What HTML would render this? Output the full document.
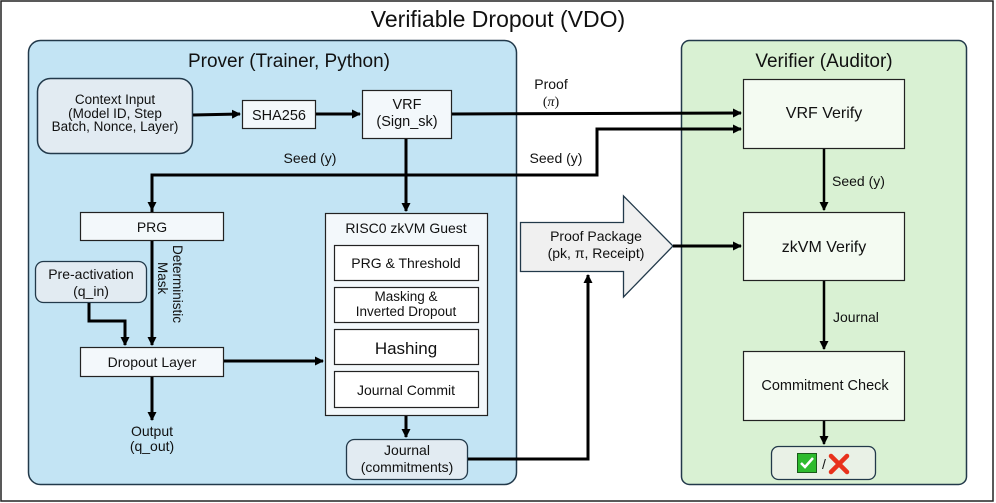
<!DOCTYPE html>
<html><head><meta charset="utf-8"><style>
html,body{margin:0;padding:0;background:#fff}
svg{display:block}
text{font-family:"Liberation Sans","DejaVu Sans",sans-serif;fill:#111}
</style></head><body>
<svg width="996" height="503" viewBox="0 0 996 503" xmlns="http://www.w3.org/2000/svg">
<defs>
<marker id="a" markerWidth="9" markerHeight="9" refX="8" refY="4.5" orient="auto" markerUnits="userSpaceOnUse"><path d="M0,0 L9,4.5 L0,9 z" fill="#000"/></marker>
</defs>
<rect x="1" y="1" width="992" height="500" fill="#fff" stroke="#222" stroke-width="1.5"/>
<text x="498" y="27" font-size="23" text-anchor="middle">Verifiable Dropout (VDO)</text>

<rect x="28.5" y="40.5" width="488" height="444" rx="12" fill="#c3e4f4" stroke="#22394a" stroke-width="1.5"/>
<text x="289" y="67" font-size="19" text-anchor="middle">Prover (Trainer, Python)</text>
<rect x="681.5" y="40.5" width="285" height="444" rx="8" fill="#d9f1d3" stroke="#22394a" stroke-width="1.5"/>
<text x="824" y="67" font-size="19" text-anchor="middle">Verifier (Auditor)</text>

<rect x="37.5" y="78.5" width="155" height="75" rx="13" fill="#e2ebf2" stroke="#22394a" stroke-width="1.5"/>
<text font-size="13.5" text-anchor="middle"><tspan x="115" y="104">Context Input</tspan><tspan x="115" y="118">(Model ID, Step</tspan><tspan x="115" y="131">Batch, Nonce, Layer)</tspan></text>
<rect x="242.5" y="100.5" width="73" height="28" fill="#f3f8fb" stroke="#222" stroke-width="1.2"/>
<text x="279" y="120" font-size="14.5" text-anchor="middle">SHA256</text>
<rect x="362.5" y="90.5" width="89" height="48" fill="#f3f8fb" stroke="#222" stroke-width="1.2"/>
<text font-size="14.5" text-anchor="middle"><tspan x="407" y="109">VRF</tspan><tspan x="407" y="126">(Sign_sk)</tspan></text>
<rect x="80.5" y="212.5" width="143" height="28" fill="#f3f8fb" stroke="#222" stroke-width="1.2"/>
<text x="152" y="232" font-size="14" text-anchor="middle">PRG</text>
<rect x="35.5" y="261.5" width="111" height="41" rx="8" fill="#e2ebf2" stroke="#22394a" stroke-width="1.3"/>
<text font-size="14" text-anchor="middle"><tspan x="91" y="279">Pre-activation</tspan><tspan x="91" y="296">(q_in)</tspan></text>
<rect x="80.5" y="347.5" width="143" height="29" fill="#f3f8fb" stroke="#222" stroke-width="1.2"/>
<text x="152" y="367" font-size="14" text-anchor="middle">Dropout Layer</text>
<text transform="translate(173,245) rotate(90)" font-size="13.5"><tspan x="0" y="0">Deterministic</tspan><tspan x="17" y="15">Mask</tspan></text>
<text font-size="14" text-anchor="middle"><tspan x="152" y="436">Output</tspan><tspan x="152" y="451">(q_out)</tspan></text>

<rect x="325.5" y="213.5" width="162" height="202" fill="#f3f8fb" stroke="#222" stroke-width="1.2"/>
<text x="406" y="233" font-size="14" text-anchor="middle">RISC0 zkVM Guest</text>
<rect x="334.5" y="245.5" width="144" height="35" fill="#fff" stroke="#222" stroke-width="1.2"/>
<text x="406" y="268" font-size="14" text-anchor="middle">PRG &amp; Threshold</text>
<rect x="334.5" y="287.5" width="144" height="35" fill="#fff" stroke="#222" stroke-width="1.2"/>
<text font-size="13.5" text-anchor="middle"><tspan x="406" y="301">Masking &amp;</tspan><tspan x="406" y="316">Inverted Dropout</tspan></text>
<rect x="334.5" y="329.5" width="144" height="35" fill="#fff" stroke="#222" stroke-width="1.2"/>
<text x="406" y="354" font-size="17" text-anchor="middle">Hashing</text>
<rect x="334.5" y="371.5" width="144" height="36" fill="#fff" stroke="#222" stroke-width="1.2"/>
<text x="406" y="395" font-size="14" text-anchor="middle">Journal Commit</text>
<rect x="346.5" y="439.5" width="121" height="40" rx="8" fill="#e2ebf2" stroke="#22394a" stroke-width="1.3"/>
<text font-size="14" text-anchor="middle"><tspan x="407" y="455">Journal</tspan><tspan x="407" y="472">(commitments)</tspan></text>

<path d="M520.5,222.5 H623.5 V196 L673,246 L623.5,297 V271.5 H520.5 Z" fill="#f0f0f0" stroke="#22394a" stroke-width="1.3"/>
<text font-size="14" text-anchor="middle"><tspan x="596" y="241">Proof Package</tspan><tspan x="596" y="258">(pk, π, Receipt)</tspan></text>

<rect x="743.5" y="79.5" width="161" height="69" fill="#f4fbf2" stroke="#222" stroke-width="1.2"/>
<text x="824" y="118" font-size="16" text-anchor="middle">VRF Verify</text>
<rect x="743.5" y="212.5" width="161" height="68" fill="#f4fbf2" stroke="#222" stroke-width="1.2"/>
<text x="824" y="252" font-size="16" text-anchor="middle">zkVM Verify</text>
<rect x="743.5" y="351.5" width="161" height="69" fill="#f4fbf2" stroke="#222" stroke-width="1.2"/>
<text x="825" y="390" font-size="14.5" text-anchor="middle">Commitment Check</text>
<rect x="771.5" y="446.5" width="104" height="33" rx="7" fill="#e9f1e6" stroke="#22394a" stroke-width="1.3"/>
<rect x="797.5" y="453.5" width="19" height="19" fill="#2dbb2d" stroke="#1a5a1a"/>
<path d="M801,463 L805,467 L813,458" stroke="#fff" stroke-width="2.5" fill="none"/>
<text x="822" y="469" font-size="14">/</text>
<path d="M831,456 L847,472 M847,456 L831,472" stroke="#e8321c" stroke-width="4.5" stroke-linecap="round"/>

<g stroke="#000" stroke-width="3" fill="none">
<path d="M193,115 L240,114" marker-end="url(#a)"/>
<path d="M316,114 L360,114" marker-end="url(#a)"/>
<path d="M452,114 L741,113" marker-end="url(#a)"/>
<path d="M152,212 V175 H597 V129 H741" marker-end="url(#a)"/>
<path d="M152,175 V210" marker-end="url(#a)"/>
<path d="M406,139 V211" marker-end="url(#a)"/>
<path d="M152,241 V345" marker-end="url(#a)"/>
<path d="M89,303 V321 H125 V345" marker-end="url(#a)"/>
<path d="M224,361 H323" marker-end="url(#a)"/>
<path d="M152,377 V420" marker-end="url(#a)"/>
<path d="M406,416 V437" marker-end="url(#a)"/>
<path d="M468,459 H588 V275" marker-end="url(#a)"/>
<path d="M673,246 H741" marker-end="url(#a)"/>
</g>
<g stroke="#000" stroke-width="2.5" fill="none">
<path d="M824,149 V210" marker-end="url(#a)"/>
<path d="M824,281 V349" marker-end="url(#a)"/>
<path d="M824,421 V444" marker-end="url(#a)"/>
</g>

<text x="310" y="163" font-size="14" text-anchor="middle">Seed (y)</text>
<text x="556" y="163" font-size="14" text-anchor="middle">Seed (y)</text>
<text font-size="14" text-anchor="middle"><tspan x="551" y="89">Proof</tspan><tspan x="551" y="106" font-family="Liberation Serif,serif">(<tspan font-style="italic">π</tspan>)</tspan></text>
<text x="832" y="186" font-size="14">Seed (y)</text>
<text x="833" y="322" font-size="14">Journal</text>
</svg>
</body></html>
